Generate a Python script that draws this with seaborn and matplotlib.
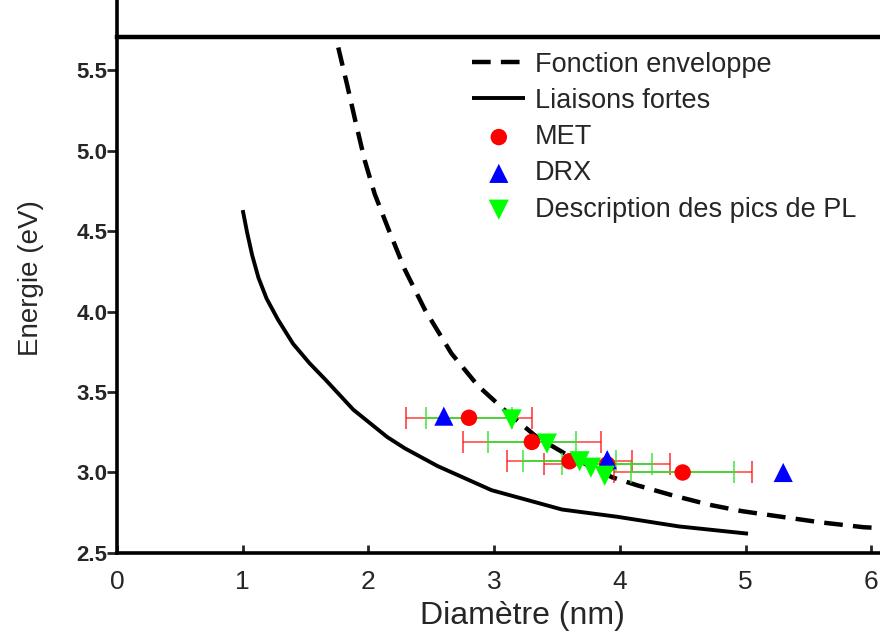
import matplotlib
matplotlib.use("Agg")
import pandas as pd
import seaborn as sns
import matplotlib.pyplot as plt

# Fonction enveloppe (dashed curve)
env_d = [1.76, 1.83, 1.90, 1.97, 2.05, 2.16, 2.29, 2.45, 2.66, 2.87, 3.08, 3.14,
         3.34, 3.58, 3.94, 4.14, 4.41, 4.71, 4.97, 5.24, 5.60, 5.94, 6.07]
env_e = [5.64, 5.41, 5.17, 4.94, 4.73, 4.51, 4.26, 4.01, 3.74, 3.54, 3.39, 3.35,
         3.22, 3.11, 2.97, 2.92, 2.86, 2.80, 2.76, 2.73, 2.69, 2.66, 2.655]

# Liaisons fortes (solid curve)
tb_d = [1.00, 1.035, 1.075, 1.125, 1.19, 1.28, 1.40, 1.53, 1.66, 1.88, 2.15, 2.29,
        2.55, 2.98, 3.54, 3.98, 4.47, 5.02]
tb_e = [4.63, 4.49, 4.35, 4.21, 4.08, 3.95, 3.80, 3.68, 3.575, 3.39, 3.22, 3.15,
        3.04, 2.89, 2.77, 2.725, 2.665, 2.62]

# MET points with two error bars each
met_d = [2.80, 3.30, 3.60, 3.90, 4.50]
met_e = [3.34, 3.19, 3.07, 3.05, 3.00]
met_err_red = [0.50, 0.55, 0.50, 0.50, 0.55]
met_err_green = [0.34, 0.35, 0.37, 0.36, 0.41]

# DRX
drx_d = [2.60, 3.90, 5.30]
drx_e = [3.35, 3.08, 3.00]

# Description des pics de PL
pl_d = [3.14, 3.42, 3.68, 3.77, 3.88]
pl_e = [3.33, 3.18, 3.07, 3.03, 2.98]

sns.set_style("ticks")
plt.rcParams["font.family"] = ["Liberation Sans", "DejaVu Sans"]

fig = plt.figure(figsize=(8.8, 6.33), dpi=100)
ax = fig.add_axes([0.133, 0.1264, 0.867, 0.8151])

env = pd.DataFrame({"d": env_d, "e": env_e})
tb = pd.DataFrame({"d": tb_d, "e": tb_e})
sns.lineplot(data=env, x="d", y="e", sort=False, estimator=None, color="black",
             lw=3.2, linestyle=(0, (4.2, 2.3)), label="Fonction enveloppe", ax=ax)
sns.lineplot(data=tb, x="d", y="e", sort=False, estimator=None, color="black",
             lw=2.8, label="Liaisons fortes", ax=ax)
for ln in ax.lines:
    ln.set_solid_joinstyle("round")
    ln.set_solid_capstyle("butt")

ax.errorbar(met_d, met_e, xerr=met_err_red, fmt="none", ecolor="red", elinewidth=1.1,
            capsize=8, capthick=1.2, alpha=0.75)
ax.errorbar(met_d, met_e, xerr=met_err_green, fmt="none", ecolor="#2ee62e", elinewidth=1.4,
            capsize=8, capthick=1.2, alpha=0.85)

sns.scatterplot(x=met_d, y=met_e, color="red", marker="o", s=140, edgecolor="none",
                label="MET", ax=ax, zorder=3)
sns.scatterplot(x=drx_d, y=drx_e, color="blue", marker="^", s=190, edgecolor="none",
                label="DRX", ax=ax, zorder=4)
sns.scatterplot(x=pl_d, y=pl_e, color="#00ff00", marker="v", s=210, edgecolor="none",
                label="Description des pics de PL", ax=ax, zorder=5)

ax.set_xlim(0, 6.07)
ax.set_ylim(2.5, 5.705)
ax.set_xticks(range(0, 7))
ax.set_yticks([2.5, 3.0, 3.5, 4.0, 4.5, 5.0, 5.5])
ax.set_yticklabels(["2.5", "3.0", "3.5", "4.0", "4.5", "5.0", "5.5"])

for s in ["left", "bottom", "top"]:
    ax.spines[s].set_linewidth(2.6)
    ax.spines[s].set_color("black")
ax.spines["top"].set_linewidth(3.2)
ax.spines["right"].set_visible(False)
ax.spines["left"].set_bounds(2.5, 5.94)

ax.tick_params(axis="y", direction="out", length=7, width=2, pad=0, labelsize=16)
ax.tick_params(axis="x", direction="in", length=6, width=2, pad=12, labelsize=19)
for lab in ax.get_yticklabels():
    lab.set_fontweight("bold")

ax.set_xlabel("Diamètre (nm)", fontsize=23)
ax.set_ylabel("Energie (eV)", fontsize=20)
ax.xaxis.set_label_coords(0.531, -0.093)
ax.yaxis.set_label_coords(-0.096, 0.533)

ax.legend(loc="upper left", bbox_to_anchor=(0.448, 0.998), frameon=False, fontsize=19.5,
          borderpad=0, handlelength=1.95, handletextpad=0.37, labelspacing=0.38)

fig.savefig("out.png", dpi=100)
